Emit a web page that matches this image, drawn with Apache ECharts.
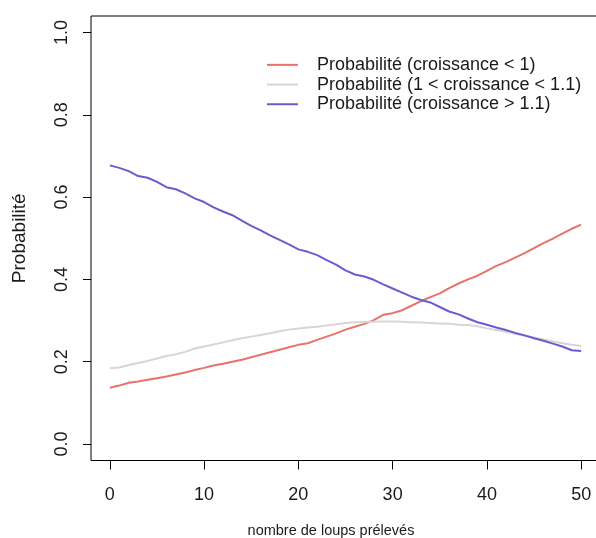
<!DOCTYPE html>
<html>
<head>
<meta charset="utf-8">
<script src="https://cdn.jsdelivr.net/npm/echarts@6/dist/echarts.min.js"></script>
<style>
html,body{margin:0;padding:0;background:#fff;}
#chart{width:596px;height:538px;}
</style>
</head>
<body>
<div id="chart"></div>
<script>
const xValues = [0,1,2,3,4,5,6,7,8,9,10,11,12,13,14,15,16,17,18,19,20,21,22,23,24,25,26,27,28,29,30,31,32,33,34,35,36,37,38,39,40,41,42,43,44,45,46,47,48,49,50];
const redValues = [0.137,0.142,0.149,0.152,0.156,0.160,0.164,0.169,0.174,0.180,0.185,0.191,0.195,0.200,0.205,0.211,0.217,0.223,0.229,0.235,0.241,0.245,0.253,0.261,0.269,0.278,0.285,0.292,0.301,0.314,0.318,0.325,0.336,0.347,0.357,0.366,0.379,0.390,0.400,0.409,0.421,0.433,0.442,0.453,0.464,0.476,0.488,0.499,0.511,0.523,0.533];
const grayValues = [0.184,0.186,0.192,0.197,0.202,0.208,0.214,0.218,0.224,0.232,0.237,0.242,0.247,0.252,0.257,0.261,0.265,0.269,0.274,0.278,0.281,0.283,0.285,0.288,0.291,0.294,0.296,0.297,0.297,0.298,0.298,0.297,0.296,0.295,0.294,0.293,0.292,0.290,0.289,0.286,0.281,0.277,0.273,0.268,0.263,0.259,0.254,0.249,0.245,0.241,0.238];
const blueValues = [0.677,0.671,0.663,0.651,0.647,0.637,0.624,0.619,0.609,0.597,0.588,0.575,0.565,0.556,0.543,0.530,0.519,0.507,0.496,0.485,0.473,0.467,0.459,0.447,0.436,0.422,0.412,0.407,0.399,0.388,0.378,0.368,0.358,0.350,0.344,0.333,0.322,0.315,0.305,0.296,0.290,0.283,0.277,0.270,0.264,0.257,0.251,0.244,0.237,0.228,0.226];
const seriesNames = ['Probabilité (croissance < 1)','Probabilité (1 < croissance < 1.1)','Probabilité (croissance > 1.1)'];
const xTicks = [0,10,20,30,40,50];
const yTicks = [0,0.2,0.4,0.6,0.8,1.0];
const xTitle = 'nombre de loups prélevés';
const yTitle = 'Probabilité';

const colors = ['#e8736c','#d6d6d6','#6a5ccf'];
const FONT = 'Liberation Sans, Arial, sans-serif';
const pairs = vals => xValues.map((x,i)=>[x, vals[i]]);

const chart = echarts.init(document.getElementById('chart'), null, {renderer:'canvas'});
chart.setOption({
  animation:false,
  backgroundColor:'#fff',
  grid:{left:91, right:-4, top:16, bottom:77.5, show:true, borderColor:'#000', borderWidth:1, backgroundColor:'transparent', containLabel:false, outerBoundsMode:'none'},
  legend:{
    orient:'vertical', left:262, top:50, itemGap:0, itemWidth:31, itemHeight:2, icon:'rect',
    data:seriesNames,
    textStyle:{fontFamily:FONT, fontSize:18, color:'#1a1a1a', lineHeight:19.7, padding:[0,0,0,14]}
  },
  xAxis:{
    type:'value', min:-2, max:52,
    name:xTitle, nameLocation:'middle', nameGap:63,
    nameTextStyle:{fontFamily:FONT, fontSize:14.5, color:'#1a1a1a', padding:[0,29,0,0]},
    axisLine:{show:false, onZero:false},
    axisTick:{show:true, length:9, customValues:xTicks, lineStyle:{color:'#000'}},
    axisLabel:{show:true, margin:26, customValues:xTicks, fontFamily:FONT, fontSize:18, color:'#1a1a1a'},
    splitLine:{show:false}
  },
  yAxis:{
    type:'value', min:-0.04, max:1.04,
    name:yTitle, nameLocation:'middle', nameGap:62,
    nameTextStyle:{fontFamily:FONT, fontSize:19, color:'#1a1a1a'},
    axisLine:{show:false, onZero:false},
    axisTick:{show:true, length:8, customValues:yTicks, lineStyle:{color:'#000'}},
    axisLabel:{show:true, rotate:90, margin:20, customValues:yTicks, fontFamily:FONT, fontSize:18, color:'#1a1a1a',
      formatter:v=>Number(v).toFixed(1)},
    splitLine:{show:false}
  },
  series:[
    {name:seriesNames[0], type:'line', data:pairs(redValues), showSymbol:false, symbol:'none', lineStyle:{color:colors[0], width:2}, itemStyle:{color:colors[0]}},
    {name:seriesNames[1], type:'line', data:pairs(grayValues), showSymbol:false, symbol:'none', lineStyle:{color:colors[1], width:2}, itemStyle:{color:colors[1]}},
    {name:seriesNames[2], type:'line', data:pairs(blueValues), showSymbol:false, symbol:'none', lineStyle:{color:colors[2], width:2}, itemStyle:{color:colors[2]}}
  ]
});
</script>
</body>
</html>
